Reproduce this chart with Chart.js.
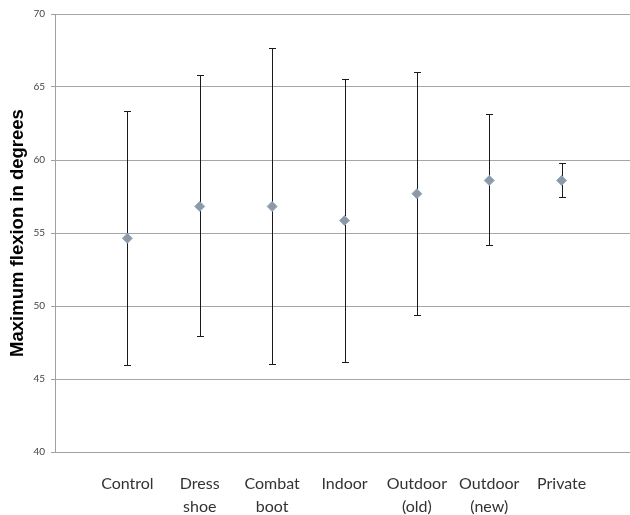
<!DOCTYPE html>
<html>
<head>
<meta charset="utf-8">
<script src="https://cdn.jsdelivr.net/npm/chart.js@4"></script>
<style>
html,body{margin:0;padding:0;background:#fff;overflow:hidden;width:630px;height:515px;}
#wrap{position:absolute;left:0;top:0;width:640px;height:515px;}
</style>
</head>
<body>
<div id="wrap"><canvas id="c" width="640" height="515"></canvas></div>
<script>
const categories = ["Control", "Dress shoe", "Combat boot", "Indoor", "Outdoor (old)", "Outdoor (new)", "Private"];
const means = [54.64, 56.82, 56.82, 55.85, 57.69, 58.6, 58.6];
const upper = [63.38, 65.79, 67.64, 65.55, 66.02, 63.13, 59.81];
const lower = [45.94, 47.94, 46.05, 46.19, 49.4, 54.16, 57.44];
const yTicks = [40, 45, 50, 55, 60, 65, 70];

const errorBars = {
  id: 'errorBars',
  beforeDatasetsDraw(chart) {
    const ctx = chart.ctx;
    const xs = chart.scales.x, ys = chart.scales.y;
    ctx.save();
    ctx.strokeStyle = '#1a1a1a';
    ctx.lineWidth = 1;
    means.forEach((m, i) => {
      const x = Math.round(xs.getPixelForValue(i + 1)) + 0.5;
      const yt = Math.round(ys.getPixelForValue(upper[i])) + 0.5;
      const yb = Math.round(ys.getPixelForValue(lower[i])) + 0.5;
      ctx.beginPath();
      ctx.moveTo(x, yt); ctx.lineTo(x, yb);
      ctx.moveTo(x - 3.5, yt); ctx.lineTo(x + 3.5, yt);
      ctx.moveTo(x - 3.5, yb); ctx.lineTo(x + 3.5, yb);
      ctx.stroke();
    });
    ctx.restore();
  }
};

new Chart(document.getElementById('c'), {
  type: 'scatter',
  data: {
    datasets: [{
      data: means.map((m, i) => ({x: i + 1, y: m})),
      pointStyle: 'rectRot',
      pointRadius: 5,
      pointHoverRadius: 5,
      backgroundColor: '#8e99a3',
      borderColor: '#8aaad2',
      borderWidth: 1
    }]
  },
  plugins: [errorBars],
  options: {
    responsive: false,
    animation: false,
    events: [],
    layout: {padding: {top: 14, right: 5, bottom: 0, left: 0}},
    plugins: {legend: {display: false}, tooltip: {enabled: false}},
    scales: {
      x: {
        type: 'linear',
        min: 0, max: 8,
        afterBuildTicks(scale) {
          scale.ticks = categories.map((c, i) => ({value: i + 1}));
        },
        afterFit(scale) { scale.height = 63; },
        grid: {display: false},
        border: {display: true, color: '#a0a0a0'},
        ticks: {
          autoSkip: false,
          maxRotation: 0,
          padding: 12,
          color: '#333333',
          font: {family: 'Lato', size: 16, lineHeight: 1.44},
          callback: (v) => {
            const c = categories[v - 1];
            return c ? c.split(' ') : '';
          }
        }
      },
      y: {
        min: 40, max: 70,
        afterBuildTicks(scale) {
          scale.ticks = yTicks.map(v => ({value: v}));
        },
        afterFit(scale) { scale.width = 55; },
        grid: {color: '#a6a6a6', tickLength: 4, drawTicks: true, tickColor: '#a0a0a0'},
        border: {display: true, color: '#a0a0a0'},
        ticks: {
          padding: 6,
          color: '#444444',
          font: {family: 'Lato', size: 10}
        },
        title: {
          display: true,
          text: 'Maximum flexion in degrees',
          color: '#000000',
          font: {family: 'Liberation Sans', size: 18.5, weight: 'bold'},
          padding: {top: 7, bottom: 0}
        }
      }
    }
  }
});
</script>
</body>
</html>
